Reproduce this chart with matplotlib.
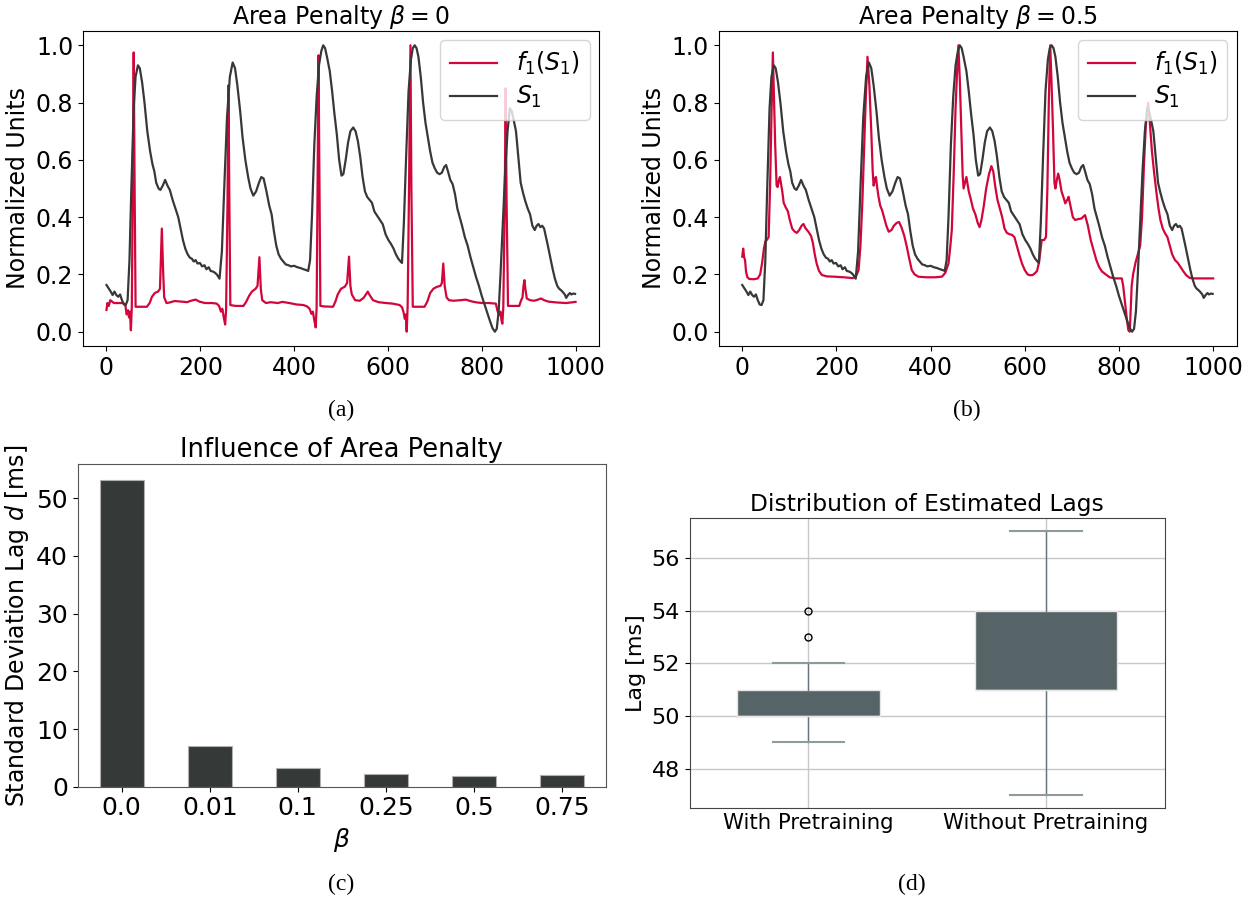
import numpy as np
import matplotlib
matplotlib.use("Agg")
import matplotlib.pyplot as plt

# ---- data ----
# S1 (same signal in panels a and b)
s1_x = [0, 5, 9, 13, 17, 21, 25, 29, 33, 37, 41, 45, 49, 53, 58, 62, 67, 71, 76, 81,
        87, 93, 98, 102, 106, 111, 115, 120, 125, 130, 135, 141, 147, 153, 158, 163, 168, 173, 178, 182,
        186, 190, 194, 199, 204, 209, 213, 218, 222, 227, 232, 236, 241, 246, 251, 257, 263, 269, 274, 279,
        285, 290, 296, 302, 307, 313, 319, 325, 330, 335, 341, 347, 352, 357, 362, 367, 372, 377, 382, 388,
        393, 400, 407, 414, 420, 426, 430, 434, 438, 443, 448, 453, 458, 462, 466, 470, 476, 481, 486, 491,
        496, 501, 505, 510, 515, 520, 526, 531, 536, 541, 546, 551, 556, 561, 566, 571, 577, 583, 589, 595,
        601, 607, 612, 617, 622, 627, 630, 634, 639, 644, 649, 653, 657, 661, 665, 670, 675, 680, 685, 690,
        695, 700, 705, 710, 715, 720, 724, 728, 733, 738, 743, 748, 753, 758, 764, 770, 776, 782, 788, 794,
        800, 806, 812, 818, 823, 828, 832, 836, 840, 845, 850, 855, 860, 864, 868, 873, 878, 883, 888, 893,
        898, 903, 908, 913, 917, 921, 925, 929, 933, 937, 941, 946, 951, 956, 961, 965, 969, 973, 977, 980,
        984, 988, 991, 995, 999]
s1_y = [0.163, 0.15, 0.14, 0.128, 0.14, 0.128, 0.122, 0.13, 0.11, 0.095, 0.093, 0.11, 0.25, 0.5, 0.78, 0.89, 0.93, 0.92, 0.87, 0.8,
        0.7, 0.63, 0.585, 0.56, 0.52, 0.5, 0.495, 0.51, 0.53, 0.51, 0.495, 0.46, 0.43, 0.4, 0.36, 0.32, 0.29, 0.27, 0.258, 0.255,
        0.245, 0.25, 0.238, 0.24, 0.228, 0.232, 0.218, 0.225, 0.212, 0.21, 0.205, 0.198, 0.185, 0.28, 0.5, 0.75, 0.89, 0.94, 0.92, 0.86,
        0.77, 0.68, 0.6, 0.54, 0.5, 0.475, 0.49, 0.52, 0.54, 0.535, 0.49, 0.44, 0.41, 0.35, 0.3, 0.27, 0.255, 0.245, 0.235, 0.232,
        0.228, 0.23, 0.225, 0.222, 0.218, 0.215, 0.212, 0.25, 0.4, 0.65, 0.82, 0.93, 0.98, 1.0, 0.99, 0.96, 0.91, 0.84, 0.76, 0.69,
        0.6, 0.545, 0.55, 0.6, 0.66, 0.7, 0.713, 0.7, 0.665, 0.61, 0.54, 0.49, 0.47, 0.46, 0.45, 0.42, 0.405, 0.39, 0.375, 0.34,
        0.32, 0.305, 0.29, 0.27, 0.255, 0.245, 0.24, 0.38, 0.62, 0.84, 0.95, 0.99, 1.0, 0.99, 0.96, 0.89, 0.8, 0.73, 0.68, 0.63,
        0.59, 0.57, 0.555, 0.55, 0.555, 0.575, 0.582, 0.56, 0.53, 0.515, 0.48, 0.43, 0.4, 0.37, 0.33, 0.3, 0.26, 0.225, 0.19, 0.16,
        0.125, 0.095, 0.065, 0.035, 0.012, 0.0, 0.01, 0.07, 0.2, 0.38, 0.56, 0.7, 0.78, 0.77, 0.74, 0.7, 0.61, 0.52, 0.485, 0.455,
        0.43, 0.41, 0.37, 0.355, 0.37, 0.376, 0.365, 0.37, 0.36, 0.33, 0.3, 0.26, 0.22, 0.185, 0.16, 0.15, 0.145, 0.138, 0.13, 0.118,
        0.128, 0.135, 0.13, 0.133, 0.132]

# f1(S1) with beta = 0
fa_x = [0, 2, 5, 8, 12, 16, 25, 35, 40, 43, 46, 48, 50, 52, 54, 56, 58, 60, 62, 70,
        86, 92, 97, 103, 110, 114, 118, 121, 123, 128, 135, 145, 160, 172, 180, 190, 198, 210, 225, 235,
        240, 244, 247, 250, 253, 255, 258, 260, 262, 264, 275, 292, 298, 304, 310, 318, 322, 326, 329, 332,
        340, 350, 365, 375, 390, 405, 420, 428, 433, 437, 440, 443, 446, 448, 450, 452, 454, 456, 465, 483,
        488, 493, 500, 508, 513, 517, 520, 523, 530, 540, 548, 554, 557, 561, 568, 580, 596, 610, 625, 630,
        633, 636, 638, 640, 642, 645, 648, 650, 653, 665, 678, 684, 690, 697, 705, 712, 715, 718, 721, 725,
        730, 740, 755, 766, 780, 790, 802, 815, 830, 834, 837, 840, 842, 844, 846, 849, 851, 853, 856, 870,
        880, 884, 887, 889, 891, 893, 896, 903, 912, 920, 926, 933, 942, 960, 980, 1000]
fa_y = [0.076, 0.1, 0.09, 0.11, 0.105, 0.1, 0.1, 0.1, 0.095, 0.06, 0.075, 0.05, 0.07, 0.005, 0.087, 0.5, 0.975, 0.5, 0.087, 0.087,
        0.087, 0.1, 0.122, 0.135, 0.14, 0.15, 0.36, 0.2, 0.12, 0.1, 0.102, 0.107, 0.105, 0.103, 0.108, 0.112, 0.105, 0.1, 0.1, 0.098,
        0.09, 0.07, 0.08, 0.05, 0.025, 0.076, 0.45, 0.86, 0.45, 0.093, 0.09, 0.09, 0.105, 0.125, 0.14, 0.15, 0.16, 0.26, 0.15, 0.11,
        0.1, 0.103, 0.1, 0.104, 0.1, 0.095, 0.093, 0.088, 0.08, 0.062, 0.07, 0.04, 0.015, 0.085, 0.5, 0.965, 0.5, 0.09, 0.088, 0.087,
        0.105, 0.13, 0.15, 0.157, 0.17, 0.262, 0.16, 0.13, 0.11, 0.108, 0.118, 0.132, 0.14, 0.128, 0.11, 0.103, 0.1, 0.098, 0.093, 0.085,
        0.07, 0.045, 0.06, 0.0, 0.087, 0.5, 1.0, 0.5, 0.087, 0.087, 0.087, 0.105, 0.135, 0.15, 0.157, 0.16, 0.17, 0.238, 0.16, 0.12,
        0.11, 0.108, 0.11, 0.112, 0.105, 0.102, 0.1, 0.1, 0.098, 0.07, 0.058, 0.07, 0.04, 0.028, 0.087, 0.45, 0.85, 0.45, 0.09, 0.09,
        0.09, 0.11, 0.12, 0.16, 0.18, 0.15, 0.116, 0.11, 0.108, 0.112, 0.116, 0.11, 0.105, 0.102, 0.1, 0.104]

# f1(S1) with beta = 0.5
fb_x = [0, 2, 4, 6, 8, 11, 15, 25, 33, 38, 42, 46, 49, 52, 56, 59, 62, 65, 67, 70,
        73, 75, 78, 80, 82, 85, 88, 92, 97, 101, 106, 111, 116, 121, 126, 130, 134, 140, 146, 150,
        154, 158, 163, 169, 180, 195, 215, 235, 242, 247, 251, 255, 259, 262, 266, 270, 274, 277, 279, 282,
        284, 286, 289, 293, 297, 301, 306, 311, 317, 322, 328, 333, 338, 344, 349, 354, 360, 366, 374, 390,
        410, 424, 431, 438, 442, 445, 449, 453, 456, 459, 462, 465, 468, 470, 473, 476, 478, 481, 485, 490,
        495, 500, 504, 508, 513, 518, 524, 529, 533, 537, 542, 547, 552, 557, 562, 568, 573, 578, 583, 589,
        594, 600, 606, 611, 617, 622, 626, 630, 633, 636, 641, 645, 648, 651, 654, 657, 660, 663, 665, 668,
        671, 674, 678, 682, 686, 690, 693, 697, 702, 707, 713, 720, 728, 734, 740, 746, 752, 758, 764, 772,
        780, 792, 806, 809, 813, 817, 820, 823, 825, 827, 830, 835, 840, 845, 849, 853, 857, 862, 866, 870,
        875, 880, 884, 888, 893, 898, 903, 908, 913, 919, 925, 931, 937, 943, 950, 960, 980, 1000]
fb_y = [0.262, 0.29, 0.26, 0.25, 0.21, 0.19, 0.184, 0.183, 0.186, 0.2, 0.238, 0.29, 0.315, 0.32, 0.33, 0.5, 0.75, 0.975, 0.85, 0.65,
        0.51, 0.505, 0.53, 0.54, 0.52, 0.49, 0.45, 0.435, 0.42, 0.39, 0.36, 0.35, 0.345, 0.355, 0.37, 0.376, 0.362, 0.35, 0.335, 0.31,
        0.27, 0.238, 0.212, 0.198, 0.193, 0.192, 0.19, 0.187, 0.195, 0.215, 0.3, 0.45, 0.65, 0.8, 0.96, 0.86, 0.7, 0.56, 0.51, 0.535,
        0.54, 0.51, 0.475, 0.44, 0.424, 0.4, 0.37, 0.349, 0.355, 0.37, 0.38, 0.383, 0.365, 0.335, 0.3, 0.26, 0.215, 0.2, 0.192, 0.19,
        0.19, 0.192, 0.205, 0.238, 0.3, 0.355, 0.55, 0.78, 0.9, 1.0, 0.88, 0.72, 0.55, 0.5, 0.52, 0.54, 0.52, 0.49, 0.465, 0.43,
        0.41, 0.38, 0.365, 0.39, 0.44, 0.5, 0.55, 0.578, 0.56, 0.51, 0.46, 0.43, 0.4, 0.36, 0.345, 0.34, 0.338, 0.33, 0.3, 0.265,
        0.238, 0.215, 0.2, 0.197, 0.198, 0.205, 0.212, 0.24, 0.28, 0.32, 0.32, 0.33, 0.5, 0.8, 1.0, 0.86, 0.7, 0.52, 0.5, 0.53,
        0.552, 0.53, 0.49, 0.47, 0.448, 0.46, 0.471, 0.44, 0.4, 0.39, 0.393, 0.395, 0.407, 0.37, 0.32, 0.285, 0.25, 0.225, 0.21, 0.2,
        0.19, 0.186, 0.186, 0.16, 0.1, 0.04, 0.005, 0.0, 0.08, 0.16, 0.2, 0.24, 0.27, 0.3, 0.4, 0.58, 0.72, 0.8, 0.72, 0.63,
        0.55, 0.48, 0.43, 0.39, 0.36, 0.343, 0.33, 0.3, 0.27, 0.25, 0.24, 0.225, 0.21, 0.197, 0.188, 0.186, 0.186, 0.186]

# influence of area penalty
betas = ['0.0', '0.01', '0.1', '0.25', '0.5', '0.75']
lag_std = [53.2, 7.0, 3.2, 2.2, 1.8, 2.0]

# distribution of estimated lags (box statistics)
box_labels = ['With Pretraining', 'Without Pretraining']
lag_q1 = [50, 51]
lag_med = [50, 51]
lag_q3 = [51, 54]
lag_lo = [49, 47]
lag_hi = [52, 57]
lag_fliers = [[53, 54], []]

red = '#d2063b'
dark = '#383838'
fs = 17

fig = plt.figure(figsize=(12.6, 8.98), dpi=100)

def signal_panel(rect, fx, fy, title):
    ax = fig.add_axes(rect)
    ax.plot(fx, fy, color=red, lw=1.6, label=r'$f_1(S_1)$')
    ax.plot(s1_x, s1_y, color=dark, lw=1.6, label=r'$S_1$')
    ax.set_title(title, fontsize=fs, pad=4)
    ax.set_ylabel('Normalized Units', fontsize=fs)
    ax.set_yticks([0, 0.2, 0.4, 0.6, 0.8, 1.0])
    ax.set_xticks([0, 200, 400, 600, 800, 1000])
    ax.tick_params(labelsize=fs)
    ax.legend(loc='upper right', fontsize=fs, borderaxespad=0.4, labelspacing=0.3)
    return ax

signal_panel([0.0659, 0.6147, 0.4095, 0.3508], fa_x, fa_y, r'Area Penalty $\beta = 0$')
signal_panel([0.5704, 0.6147, 0.4111, 0.3508], fb_x, fb_y, r'Area Penalty $\beta = 0.5$')

# (c) bar chart
axc = fig.add_axes([0.0617, 0.1239, 0.419, 0.359])
pos = np.arange(len(betas))
axc.bar(pos, lag_std, width=0.5, color='#353a39', edgecolor='#b0b0b0', linewidth=0.8)
axc.set_xlim(-0.5, len(betas) - 0.5)
axc.set_xticks(pos)
axc.set_xticklabels(betas)
axc.set_yticks([0, 10, 20, 30, 40, 50])
axc.tick_params(labelsize=18)
axc.set_xlabel(r'$\beta$', fontsize=18)
axc.set_ylabel(r'Standard Deviation Lag $d$ [ms]', fontsize=17)
axc.set_title('Influence of Area Penalty', fontsize=18.5, pad=5)
for sp in axc.spines.values():
    sp.set_color('#555555')

# (d) box plot
axd = fig.add_axes([0.5474, 0.1002, 0.377, 0.3226])
stats = []
for i in range(len(box_labels)):
    stats.append(dict(label=box_labels[i], q1=lag_q1[i], med=lag_med[i], q3=lag_q3[i],
                      whislo=lag_lo[i], whishi=lag_hi[i], fliers=lag_fliers[i]))
axd.bxp(stats, positions=[1, 2], widths=0.6, patch_artist=True,
        boxprops=dict(facecolor='#566468', edgecolor='#e6e6e6', linewidth=1),
        whiskerprops=dict(color='#66767a', linewidth=1),
        capprops=dict(color='#8e9a9d', linewidth=1.5),
        medianprops=dict(color='#e6e6e6', linewidth=1),
        flierprops=dict(marker='o', markerfacecolor='none', markeredgecolor='black', markersize=5))
axd.set_xlim(0.5, 2.5)
axd.set_ylim(46.5, 57.5)
axd.set_yticks([48, 50, 52, 54, 56])
axd.grid(True, color='#c8c8c8', linewidth=1)
axd.set_axisbelow(True)
axd.tick_params(axis='y', labelsize=16)
axd.tick_params(axis='x', labelsize=15.3, length=0)
axd.set_ylabel('Lag [ms]', fontsize=16)
axd.set_title('Distribution of Estimated Lags', fontsize=16.8, pad=5)
for sp in axd.spines.values():
    sp.set_color('#444444')

# sub-figure captions
cap = dict(fontsize=17, family='Liberation Serif', ha='center', va='center')
fig.text(341 / 1260, 1 - 410 / 898, '(a)', **cap)
fig.text(967 / 1260, 1 - 410 / 898, '(b)', **cap)
fig.text(341 / 1260, 1 - 884 / 898, '(c)', **cap)
fig.text(912 / 1260, 1 - 884 / 898, '(d)', **cap)

fig.savefig('out.png', dpi=100)
